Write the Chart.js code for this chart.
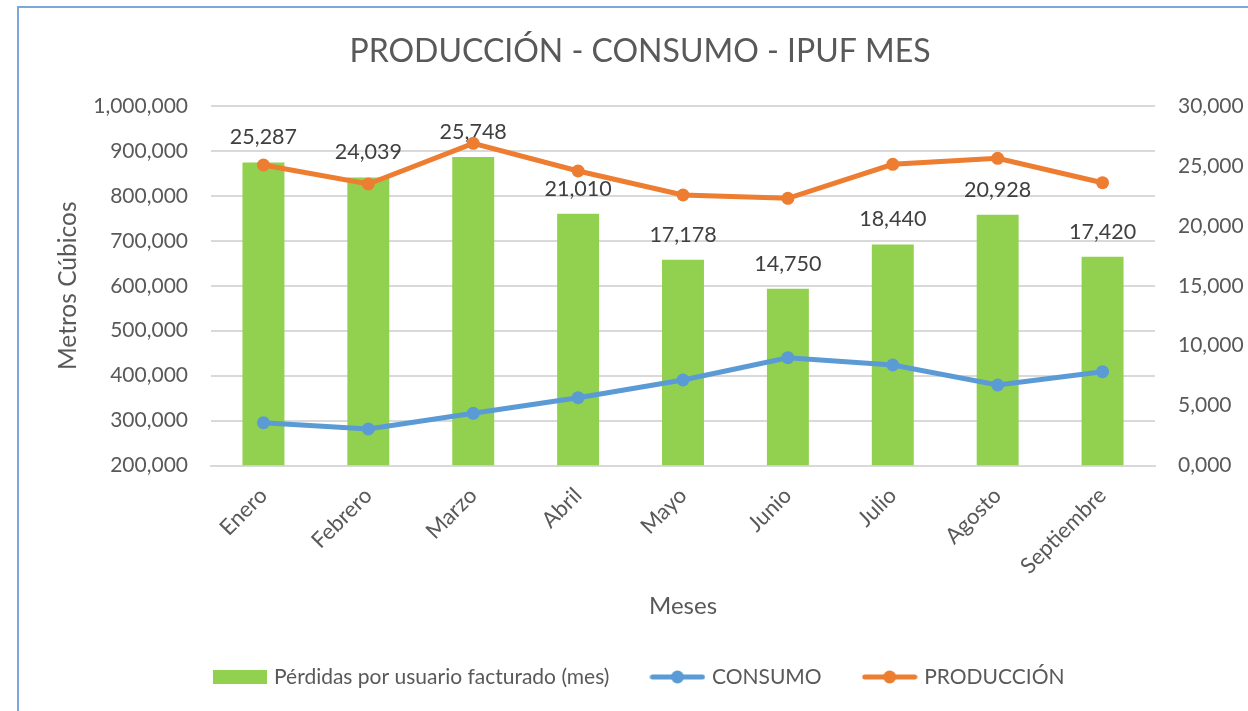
<!DOCTYPE html>
<html><head><meta charset="utf-8">
<script src="https://cdn.jsdelivr.net/npm/chart.js@4.4.0/dist/chart.umd.min.js"></script>
<style>
html,body{margin:0;padding:0;background:#fff;overflow:hidden}
#wrap{position:relative;width:1248px;height:711px}
#frame{position:absolute;left:17px;top:6px;width:1300px;height:800px;border-left:2px solid #7CA7DC;border-top:2px solid #7CA7DC;pointer-events:none}
canvas{position:absolute;left:0;top:0}
</style></head><body>
<div id="wrap"><canvas id="c" width="1248" height="711"></canvas><div id="frame"></div></div>
<script>
const months = ['Enero','Febrero','Marzo','Abril','Mayo','Junio','Julio','Agosto','Septiembre'];
const perdidas = [25287, 24039, 25748, 21010, 17178, 14750, 18440, 20928, 17420];
const consumo = [295200, 281200, 316200, 350900, 390300, 439900, 423600, 379100, 408700];
const produccion = [868700, 826400, 917000, 855400, 802000, 794600, 870300, 883600, 829300];
const leftTicks = [200000, 1000000, 100000];
const rightTicks = [0, 30000, 5000];

const GREEN = '#92D050', BLUE = '#5B9BD5', ORANGE = '#ED7D31', TXT = '#595959';
const FONT = 'Lato';

function barIcon(){
  const c = document.createElement('canvas'); c.width = 54; c.height = 14;
  const x = c.getContext('2d'); x.fillStyle = GREEN; x.fillRect(0,0,54,14); return c;
}
function lineIcon(col){
  const c = document.createElement('canvas'); c.width = 56; c.height = 14;
  const x = c.getContext('2d');
  x.strokeStyle = col; x.lineWidth = 5; x.lineCap = 'round';
  x.beginPath(); x.moveTo(3,7); x.lineTo(53,7); x.stroke();
  x.fillStyle = col; x.beginPath(); x.arc(28,7,6.5,0,Math.PI*2); x.fill();
  return c;
}
const icons = [barIcon(), lineIcon(BLUE), lineIcon(ORANGE)];

const fmt = v => v.toLocaleString('en-US');

const barLabels = {
  id: 'barLabels',
  afterDatasetDraw(chart, args){
    if (args.index !== 0) return;
    const ctx = chart.ctx;
    ctx.save();
    ctx.font = '21.5px ' + FONT;
    ctx.fillStyle = '#404040';
    ctx.textAlign = 'center';
    ctx.textBaseline = 'middle';
    args.meta.data.forEach((el, i) => {
      ctx.fillText(fmt(perdidas[i]), el.x, el.y - 25);
    });
    ctx.restore();
  }
};

new Chart(document.getElementById('c'), {
  data: {
    labels: months,
    datasets: [
      { type: 'bar', label: 'Pérdidas por usuario facturado (mes)', data: perdidas, yAxisID: 'y1',
        backgroundColor: GREEN, barPercentage: 0.4, categoryPercentage: 1, order: 1 },
      { type: 'line', label: 'CONSUMO', data: consumo, yAxisID: 'y', borderColor: BLUE, backgroundColor: BLUE,
        borderWidth: 5, pointRadius: 6.5, pointHoverRadius: 6.5, pointBorderWidth: 0, tension: 0, order: 0 },
      { type: 'line', label: 'PRODUCCIÓN', data: produccion, yAxisID: 'y', borderColor: ORANGE, backgroundColor: ORANGE,
        borderWidth: 5, pointRadius: 6.5, pointHoverRadius: 6.5, pointBorderWidth: 0, tension: 0, order: 0 }
    ]
  },
  options: {
    responsive: false,
    animation: false,
    layout: { padding: { left: 32, right: 0, top: 0, bottom: 13.5 } },
    plugins: {
      tooltip: { enabled: false },
      title: { display: true, text: 'PRODUCCIÓN - CONSUMO - IPUF MES', color: TXT,
        font: { family: FONT, size: 32, weight: 'normal' }, padding: { top: 32.8, bottom: 34.8 } },
      legend: {
        position: 'bottom',
        labels: {
          usePointStyle: true, pointStyleWidth: 48, boxHeight: 14,
          color: TXT, font: { family: FONT, size: 21 }, padding: 44,
          sort: (a, b) => a.datasetIndex - b.datasetIndex,
          generateLabels(chart){
            const items = Chart.defaults.plugins.legend.labels.generateLabels(chart);
            items.forEach(it => { it.pointStyle = icons[it.datasetIndex]; });
            return items;
          }
        }
      }
    },
    scales: {
      x: {
        grid: { display: false, drawTicks: false },
        border: { display: true, color: '#D9D9D9', width: 2 },
        ticks: { color: TXT, font: { family: FONT, size: 22 }, maxRotation: 45, minRotation: 45, padding: 17 },
        title: { display: true, text: 'Meses', color: TXT, font: { family: FONT, size: 24 }, padding: { top: 4, bottom: 2 } },
        afterFit(s){ s.height = 157; }
      },
      y: {
        position: 'left', min: leftTicks[0], max: leftTicks[1],
        grid: { color: '#D9D9D9', lineWidth: 2, drawTicks: false },
        border: { display: false },
        ticks: { stepSize: leftTicks[2], color: TXT, font: { family: FONT, size: 21 }, padding: 23, callback: v => fmt(v) },
        title: { display: true, text: 'Metros Cúbicos', color: TXT, font: { family: FONT, size: 24.5 }, padding: { top: 21.3, bottom: 0 } },
        afterFit(s){ s.width = 179; }
      },
      y1: {
        position: 'right', min: rightTicks[0], max: rightTicks[1],
        grid: { display: false, drawTicks: false },
        border: { display: false },
        ticks: { stepSize: rightTicks[2], color: TXT, font: { family: FONT, size: 21 }, padding: 23,
          callback: v => v === 0 ? '0,000' : fmt(v) },
        afterFit(s){ s.width = 93; }
      }
    }
  },
  plugins: [barLabels]
});
</script>
</body></html>
